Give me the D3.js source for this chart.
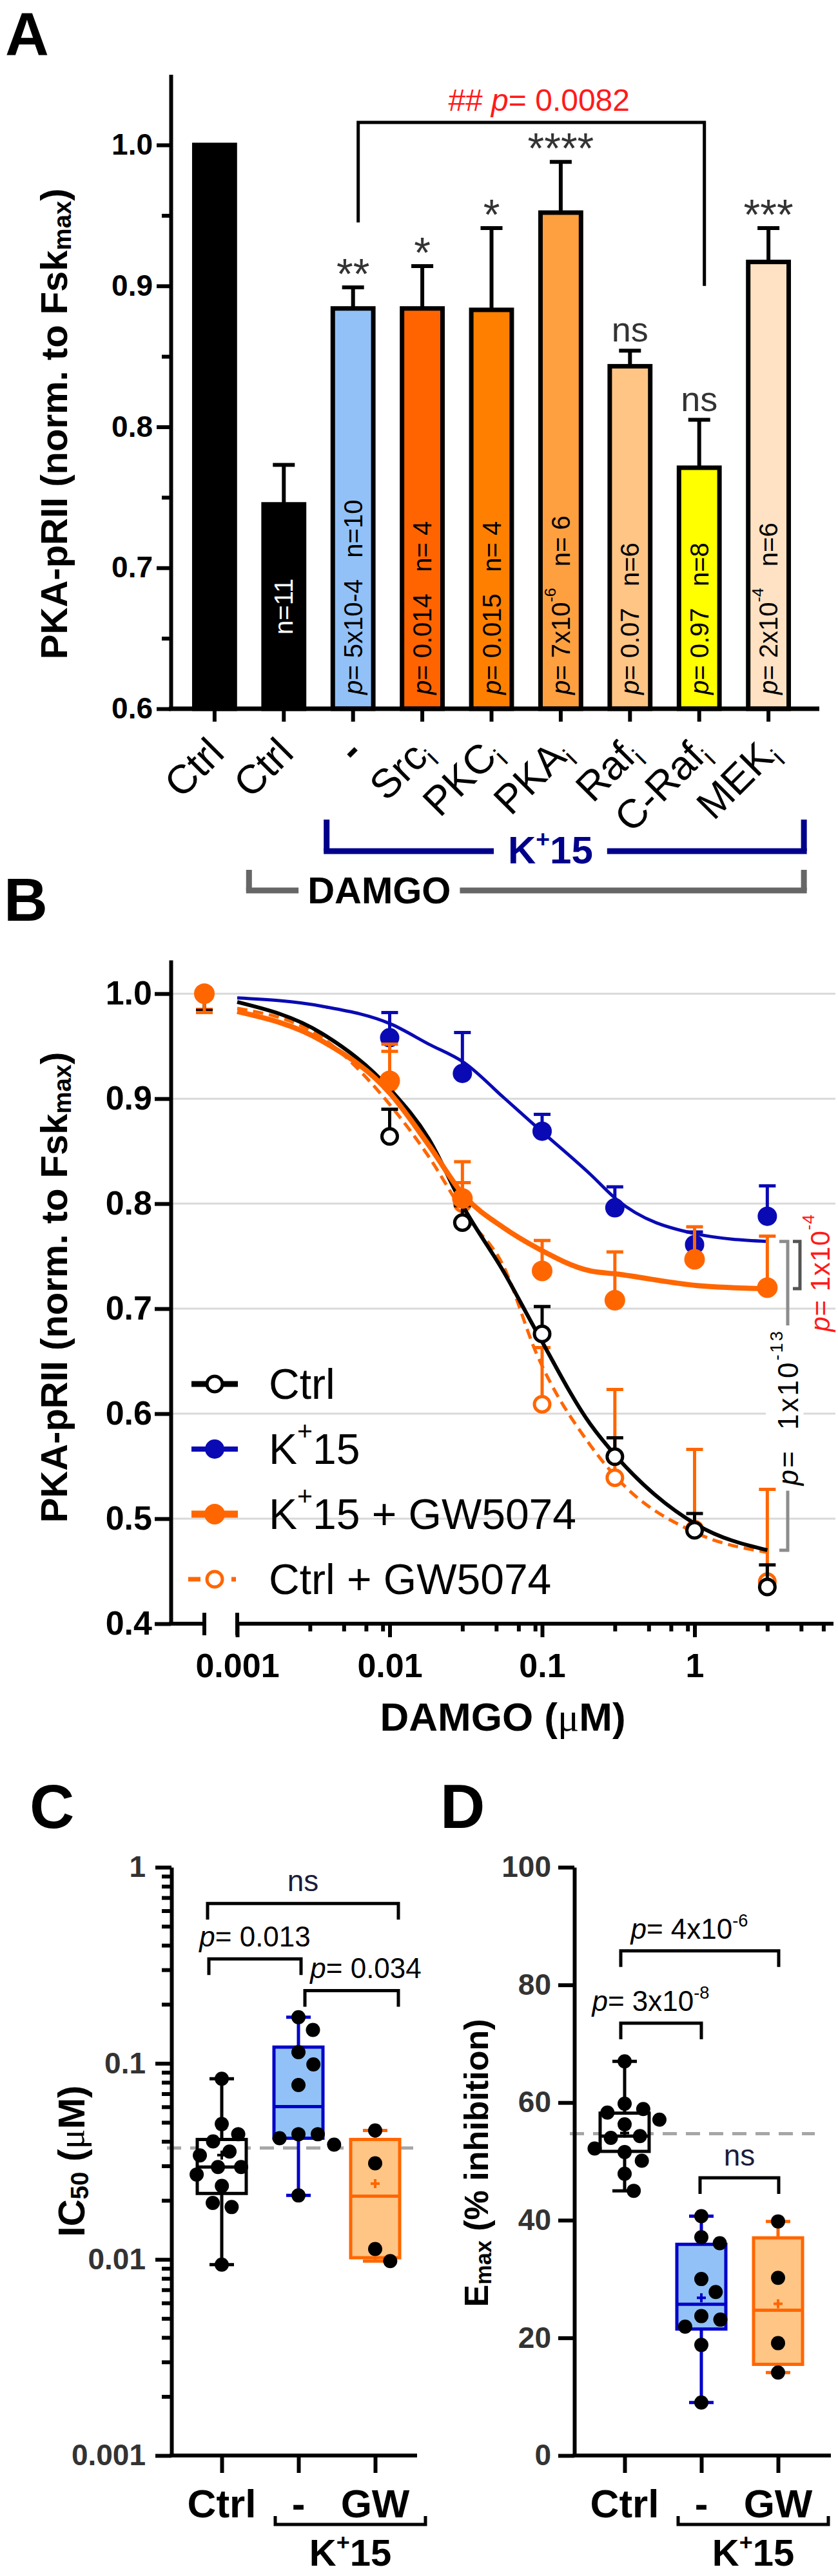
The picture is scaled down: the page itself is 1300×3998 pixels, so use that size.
<!DOCTYPE html>
<html>
<head>
<meta charset="utf-8">
<script src="https://cdn.jsdelivr.net/npm/d3@7"></script>
<style>
  body { margin: 0; background: #fff; }
  svg { display: block; }
  text { white-space: pre; }
</style>
</head>
<body>
<svg id="fig" width="1300" height="3998"></svg>
<script>
// ---------- Panel A data ----------
var aLabels = ["Ctrl", "Ctrl", "-", "Src~i~", "PKC~i~", "PKA~i~", "Raf~i~", "C-Raf~i~", "MEK~i~"];
var aMeans  = [1.000, 0.745, 0.884, 0.884, 0.883, 0.952, 0.843, 0.771, 0.917];
var aErrs   = [0, 0.028, 0.015, 0.030, 0.058, 0.036, 0.011, 0.034, 0.024];
var aColors = ["#000000", "#000000", "#92c1f7", "#ff6400", "#ff8000", "#ffa040", "#ffc585", "#ffff00", "#ffe2c4"];
var aStars  = ["", "", "**", "*", "*", "****", "ns", "ns", "***"];
var aNotes  = ["", "n=11", "_p_= 5x10-4   n=10", "_p_= 0.014   n= 4", "_p_= 0.015   n= 4",
               "_p_= 7x10^-6^   n= 6", "_p_= 0.07   n=6", "_p_= 0.97   n=8", "_p_= 2x10^-4^   n=6"];
var aTicks  = [0.6, 0.7, 0.8, 0.9, 1.0];
var aMinor  = [0.65, 0.75, 0.85, 0.95];

// ---------- Panel B data ----------
var bConc      = [0, 0.01, 0.03, 0.1, 0.3, 1, 3];
var ctrlMean   = [1.000, 0.864, 0.782, 0.676, 0.559, 0.489, 0.435];
var ctrlSem    = [0.016, 0.026, 0.016, 0.026, 0.018, 0.016, 0.021];
var k15Mean    = [1.000, 0.958, 0.924, 0.869, 0.796, 0.761, 0.788];
var k15Sem     = [0, 0.024, 0.039, 0.016, 0.020, 0.012, 0.029];
var gwMean     = [1.000, 0.917, 0.805, 0.736, 0.708, 0.747, 0.720];
var gwSem      = [0.018, 0.035, 0.035, 0.029, 0.046, 0.031, 0.049];
var ctrlGwMean = [1.000, 0.915, 0.800, 0.609, 0.539, 0.490, 0.440];
var ctrlGwSem  = [0.015, 0.030, 0.020, 0.054, 0.084, 0.076, 0.088];
// fitted curves
var fitConc   = [0.001, 0.0036, 0.0102, 0.018, 0.031, 0.056, 0.092, 0.207, 0.308, 1.04, 3.0];
var k15Fit    = [0.996, 0.988, 0.971, 0.952, 0.934, 0.901, 0.873, 0.828, 0.804, 0.771, 0.764];
var ctrlFit   = [0.992, 0.962, 0.908, 0.862, 0.795, 0.735, 0.678, 0.590, 0.559, 0.494, 0.470];
var gwFit     = [0.983, 0.955, 0.904, 0.856, 0.807, 0.777, 0.758, 0.736, 0.733, 0.722, 0.719];
var ctrlGwFit = [0.986, 0.958, 0.893, 0.845, 0.790, 0.740, 0.657, 0.570, 0.539, 0.486, 0.468];
var bYTicks   = [0.4, 0.5, 0.6, 0.7, 0.8, 0.9, 1.0];
var bXTicks   = [0.001, 0.01, 0.1, 1];
var bXMinor   = [0.003, 0.005, 0.007, 0.009, 0.03, 0.05, 0.07, 0.09, 0.3, 0.5, 0.7, 0.9, 3, 5, 7];

// ---------- Panel C data (IC50, uM) ----------
var groupsCD = ["Ctrl", "-", "GW"];
var icCtrl = [0.0834, 0.0490, 0.0435, 0.0400, 0.0355, 0.0339, 0.0296, 0.0296, 0.0271, 0.0237, 0.0194, 0.0185, 0.0094];
var icK15  = [0.172, 0.148, 0.114, 0.0987, 0.0775, 0.0435, 0.0435, 0.0415, 0.0385, 0.0212];
var icGw   = [0.0455, 0.0309, 0.0113, 0.0098];
var icBox  = [[0.0217, 0.0296, 0.0409], [0.0415, 0.0602, 0.121], [0.0102, 0.0210, 0.0409]];
var icRef  = 0.037;
var icComps = [["Ctrl", "GW", 0.654, "ns"], ["Ctrl", "-", 0.341, "_p_= 0.013"], ["-", "GW", 0.235, "_p_= 0.034"]];

// ---------- Panel D data (Emax, % inhibition) ----------
var emCtrl = [67.0, 59.8, 58.9, 58.3, 57.1, 56.3, 54.3, 54.0, 52.2, 51.6, 50.1, 47.9, 45.0];
var emK15  = [40.7, 37.1, 36.1, 30.0, 27.8, 23.7, 23.1, 21.9, 18.8, 9.0];
var emGw   = [39.8, 30.2, 19.1, 14.1];
var emBox  = [[51.7, 54.3, 58.2], [21.5, 25.7, 35.9], [15.5, 24.7, 37.0]];
var emRef  = 54.7;
var emComps = [["Ctrl", "GW", 85.8, "_p_= 4x10^-6^"], ["Ctrl", "-", 73.5, "_p_= 3x10^-8^"], ["-", "GW", 47.2, "ns"]];

// ---------- helpers ----------
var FONT = "'Liberation Sans', Arial, Helvetica, sans-serif";
var SERIF = "'Liberation Serif', 'DejaVu Serif', serif";
var NAVY = "#00008b", BLUE = "#0a0ab4", ORANGE = "#ff6600";

var svg = d3.select("#fig");
svg.append("rect").attr("width", 1300).attr("height", 3998).attr("fill", "#fff");

// tiny markup: _italic_  ^super^  ~sub~  {serif}
function rich(t, str, fs) {
  var parts = str.split(/(_[^_]+_|\^[^^]+\^|~[^~]+~|\{[^}]+\})/).filter(function(s) { return s.length; });
  var shift = 0;
  parts.forEach(function(p) {
    var ts = t.append("tspan"), txt = p, dy = 0;
    if (/^_.+_$/.test(p)) { txt = p.slice(1, -1); ts.attr("font-style", "italic"); }
    else if (/^\^.+\^$/.test(p)) { txt = p.slice(1, -1); ts.attr("font-size", fs * 0.62); dy = -fs * 0.42; }
    else if (/^~.+~$/.test(p)) { txt = p.slice(1, -1); ts.attr("font-size", fs * 0.66); dy = fs * 0.22; }
    else if (/^\{.+\}$/.test(p)) { txt = p.slice(1, -1); ts.attr("font-family", SERIF).attr("font-weight", "normal"); }
    if (dy - shift) ts.attr("dy", dy - shift);
    shift = dy;
    ts.text(txt);
  });
}

function label(parent, x, y, str, o) {
  o = o || {};
  var fs = o.size || 40;
  var g = parent.append("g").attr("transform", "translate(" + x + "," + y + ")" + (o.rot ? " rotate(" + o.rot + ")" : ""));
  var t = g.append("text")
    .attr("font-family", FONT).attr("font-size", fs)
    .attr("font-weight", o.bold ? "bold" : "normal")
    .attr("fill", o.fill || "#000")
    .attr("text-anchor", o.anchor || "start");
  if (o.mid) t.attr("dominant-baseline", "central");
  if (o.ls) t.attr("letter-spacing", o.ls);
  rich(t, str, fs);
  if (o.bg) {
    var b = t.node().getBBox();
    g.insert("rect", "text").attr("x", b.x - o.bg).attr("y", b.y)
      .attr("width", b.width + 2 * o.bg).attr("height", b.height).attr("fill", "#fff");
  }
  return t;
}

function styleAxis(g, fs, sw, color) {
  g.attr("font-family", FONT).attr("font-size", fs).attr("font-weight", "bold");
  g.select(".domain").attr("stroke", "#000").attr("stroke-width", sw);
  g.selectAll(".tick line").attr("stroke", "#000").attr("stroke-width", sw);
  g.selectAll(".tick text").attr("fill", color || "#000");
}

// bracket with a gap for a label
function gapLine(g, x0, x1, y, t, tx, pad, color, w) {
  var b = t.node().getBBox();
  var l = tx + b.x - pad, r = tx + b.x + b.width + pad;
  g.append("path").attr("d", "M" + x0 + "," + y + "H" + l + "M" + r + "," + y + "H" + x1)
    .attr("stroke", color).attr("stroke-width", w).attr("fill", "none");
}

// =================== PANEL A ===================
var gA = svg.append("g");
var xA = d3.scaleBand().domain(d3.range(aLabels.length)).range([265, 1260]).paddingInner(0.35).paddingOuter(0.307);
var yA = d3.scaleLinear().domain([0.6, 1.05]).range([1100, 115.6]);
var cA = function(i) { return xA(i) + xA.bandwidth() / 2; };

label(gA, 8, 86, "A", {size: 94, bold: true});

gA.selectAll("rect.bar").data(aMeans).join("rect").attr("class", "bar")
  .attr("x", function(d, i) { return xA(i) + 3.5; })
  .attr("width", xA.bandwidth() - 7)
  .attr("y", function(d) { return yA(d); })
  .attr("height", function(d) { return yA(0.6) - yA(d); })
  .attr("fill", function(d, i) { return aColors[i]; })
  .attr("stroke", "#000").attr("stroke-width", 7);

aMeans.forEach(function(m, i) {
  var x = cA(i), top = yA(m + aErrs[i]);
  if (aErrs[i]) {
    gA.append("path").attr("d", "M" + x + "," + yA(m) + "V" + top + "M" + (x - 17) + "," + top + "H" + (x + 17))
      .attr("stroke", "#000").attr("stroke-width", 6).attr("fill", "none");
  }
  if (aStars[i] === "ns") label(gA, x, top - 14, "ns", {size: 54, anchor: "middle", fill: "#333"});
  else if (aStars[i]) label(gA, x, top + 2, aStars[i], {size: 66, anchor: "middle", fill: "#333"});
  if (aNotes[i]) {
    var white = aColors[i] === "#000000";
    if (/^n=/.test(aNotes[i])) {
      label(gA, x, (yA(m) + yA(0.6)) / 2, aNotes[i], {size: 40, rot: -90, anchor: "middle", mid: true, fill: white ? "#fff" : "#000"});
    } else {
      label(gA, x, yA(0.6) - 22, aNotes[i], {size: 40, rot: -90, anchor: "start", mid: true, fill: white ? "#fff" : "#000"});
    }
  }
});

var axA = gA.append("g").attr("transform", "translate(265,0)")
  .call(d3.axisLeft(yA).tickValues(aTicks).tickFormat(d3.format(".1f")).tickSize(22).tickPadding(6).tickSizeOuter(0));
styleAxis(axA, 46, 6);
var axAm = gA.append("g").attr("transform", "translate(265,0)")
  .call(d3.axisLeft(yA).tickValues(aMinor).tickFormat("").tickSize(14).tickSizeOuter(0));
axAm.select(".domain").remove();
styleAxis(axAm, 46, 6);
var axAx = gA.append("g").attr("transform", "translate(0,1100)")
  .call(d3.axisBottom(xA).tickFormat("").tickSize(20).tickSizeOuter(0));
axAx.select(".domain").remove();
styleAxis(axAx, 46, 6);
gA.append("line").attr("x1", 262).attr("x2", 1271).attr("y1", 1100).attr("y2", 1100)
  .attr("stroke", "#000").attr("stroke-width", 7);

label(gA, 83, (yA(0.6) + yA(1.05)) / 2 + 50, "PKA-pRII (norm. to Fsk~max~)", {size: 58, bold: true, rot: -90, anchor: "middle", mid: true});

aLabels.forEach(function(s, i) {
  label(gA, cA(i) + 18, 1172, s, {size: 63, rot: -45, anchor: "end", bold: s === "-"});
});

// ## bracket between "-" and C-Raf
(function() {
  var x1 = cA(2) + 8, x2 = cA(7) + 8, yb = yA(1.016);
  gA.append("path").attr("d", "M" + x1 + "," + yA(0.945) + "V" + yb + "H" + x2 + "V" + yA(0.9))
    .attr("stroke", "#000").attr("stroke-width", 5).attr("fill", "none");
  label(gA, (x1 + x2) / 2 + 12, yA(1.0242), "## _p_= 0.0082", {size: 48, anchor: "middle", fill: "#ff1a1a"});
})();

// K+15 and DAMGO group brackets
(function() {
  var l = cA(2) - 41, r = cA(8) + 55, yb = 1321;
  gA.append("path").attr("d", "M" + l + ",1272V" + yb + "M" + r + ",1272V" + yb)
    .attr("stroke", NAVY).attr("stroke-width", 9).attr("fill", "none");
  var tx = (l + r) / 2 - 23;
  var t = label(gA, tx, 1340, "K^+^15", {size: 60, bold: true, anchor: "middle", fill: NAVY});
  gapLine(gA, l - 4.5, r + 4.5, yb, t, tx, 22, NAVY, 9);

  var l2 = cA(1) - 54, r2 = r, yb2 = 1382;
  gA.append("path").attr("d", "M" + l2 + ",1350V" + yb2 + "M" + r2 + ",1350V" + yb2)
    .attr("stroke", "#666").attr("stroke-width", 9).attr("fill", "none");
  var tx2 = l2 + 202;
  var t2 = label(gA, tx2, 1402, "DAMGO", {size: 58, bold: true, anchor: "middle"});
  gapLine(gA, l2 - 4.5, r2 + 4.5, yb2, t2, tx2, 14, "#666", 9);
})();

// =================== PANEL B ===================
var gB = svg.append("g");
var ZERO_X = 317;
var xB = d3.scaleLog().domain([0.001, 8.15]).range([368, 1293]);
var yB = d3.scaleLinear().domain([0.4, 1.032]).range([2520, 1490]);
var px = function(c) { return c === 0 ? ZERO_X : xB(c); };

label(gB, 6, 1429, "B", {size: 94, bold: true});

bYTicks.slice(1).forEach(function(v) {
  gB.append("line").attr("x1", 265).attr("x2", 1296).attr("y1", yB(v)).attr("y2", yB(v))
    .attr("stroke", "#d9d9d9").attr("stroke-width", 3);
});

// p-value brackets on the right
(function() {
  var xb = 1222, y0 = yB(0.764), y1 = yB(0.470);
  gB.append("path").attr("d", "M" + (xb - 13) + "," + y0 + "H" + xb + "V" + y1 + "H" + (xb - 13))
    .attr("stroke", "#8c8c8c").attr("stroke-width", 5).attr("fill", "none");
  label(gB, xb, (y0 + y1) / 2 + 18, "_p_=  1x10^-13^", {size: 44, rot: -90, anchor: "middle", mid: true, bg: 6, ls: 3});
  var xr = 1241, r0 = yB(0.764), r1 = yB(0.719);
  gB.append("path").attr("d", "M" + (xr - 11) + "," + r0 + "H" + xr + "V" + r1 + "H" + (xr - 11))
    .attr("stroke", "#555").attr("stroke-width", 5).attr("fill", "none");
  label(gB, 1272, (r0 + r1) / 2 + 12, "_p_= 1x10^-4^", {size: 42, rot: -90, anchor: "middle", mid: true, fill: "#ff1a1a", ls: 1});
})();

var seriesB = {
  ctrl:   {name: "Ctrl", mean: ctrlMean, sem: ctrlSem, fit: ctrlFit, color: "#000", filled: false, lw: 6, dash: null, r: 12},
  k15:    {name: "K^+^15", mean: k15Mean, sem: k15Sem, fit: k15Fit, color: BLUE, filled: true, lw: 5, dash: null, r: 15},
  gw:     {name: "K^+^15 + GW5074", mean: gwMean, sem: gwSem, fit: gwFit, color: ORANGE, filled: true, lw: 8, dash: null, r: 16},
  ctrlGw: {name: "Ctrl + GW5074", mean: ctrlGwMean, sem: ctrlGwSem, fit: ctrlGwFit, color: ORANGE, filled: false, lw: 5, dash: "16 9", r: 12}
};

function marker(g, x, y, s) {
  g.append("circle").attr("cx", x).attr("cy", y).attr("r", s.r)
    .attr("fill", s.filled ? s.color : "#fff")
    .attr("stroke", s.color).attr("stroke-width", s.filled ? 0 : 5);
}

var lineB = d3.line().x(function(d) { return xB(d[0]); }).y(function(d) { return yB(d[1]); }).curve(d3.curveMonotoneX);

[seriesB.k15, seriesB.ctrlGw, seriesB.ctrl, seriesB.gw].forEach(function(s) {
  s.mean.forEach(function(m, i) {
    if (!s.sem[i]) return;
    var x = px(bConc[i]), e = bConc[i] === 0 ? m - s.sem[i] : m + s.sem[i];
    gB.append("path").attr("d", "M" + x + "," + yB(m) + "V" + yB(e) + "M" + (x - 13) + "," + yB(e) + "H" + (x + 13))
      .attr("stroke", s.color).attr("stroke-width", 5).attr("fill", "none");
  });
  gB.append("path").datum(fitConc.map(function(c, i) { return [c, s.fit[i]]; }))
    .attr("d", lineB).attr("fill", "none").attr("stroke", s.color).attr("stroke-width", s.lw)
    .attr("stroke-dasharray", s.dash);
  s.mean.forEach(function(m, i) { marker(gB, px(bConc[i]), yB(m), s); });
});

// axes
var axBy = gB.append("g").attr("transform", "translate(265,0)")
  .call(d3.axisLeft(yB).tickValues(bYTicks).tickFormat(d3.format(".1f")).tickSize(25).tickPadding(4).tickSizeOuter(0));
styleAxis(axBy, 52, 6);
var yAx = yB(0.4);
gB.append("path")
  .attr("d", "M262," + yAx + "H" + ZERO_X + "M" + ZERO_X + "," + (yAx - 17) + "V" + (yAx + 18) +
             "M" + xB(0.001) + "," + (yAx - 17) + "V" + (yAx + 18) + "M" + xB(0.001) + "," + yAx + "H" + xB.range()[1])
  .attr("stroke", "#000").attr("stroke-width", 6).attr("fill", "none");
var axBx = gB.append("g").attr("transform", "translate(0," + yAx + ")")
  .call(d3.axisBottom(xB).tickValues(bXTicks).tickFormat(function(d) { return String(d); }).tickSize(21).tickPadding(25));
axBx.select(".domain").remove();
styleAxis(axBx, 52, 6);
var axBm = gB.append("g").attr("transform", "translate(0," + yAx + ")")
  .call(d3.axisBottom(xB).tickValues(bXMinor).tickFormat("").tickSize(12));
axBm.select(".domain").remove();
styleAxis(axBm, 52, 6);

label(gB, 780, 2686, "DAMGO ({\u03bc}M)", {size: 62, bold: true, anchor: "middle"});
label(gB, 83, 1998, "PKA-pRII (norm. to Fsk~max~)", {size: 58, bold: true, rot: -90, anchor: "middle", mid: true});

// legend
[seriesB.ctrl, seriesB.k15, seriesB.gw, seriesB.ctrlGw].forEach(function(s, i) {
  var y = 2148 + i * 101;
  gB.append("line").attr("x1", s.dash ? 292 : 297).attr("x2", s.dash ? 366 : 369).attr("y1", y).attr("y2", y)
    .attr("stroke", s.color).attr("stroke-width", s.dash ? 7 : s.lw + 3)
    .attr("stroke-dasharray", s.dash ? "19 48 7" : null);
  marker(gB, 333, y, s);
  label(gB, 417, y, s.name, {size: 66, mid: true});
});

// =================== PANELS C & D ===================
function swarm(vals, yf, spacing) {
  var pts = vals.map(function(v) { return {v: v, y: yf(v), x: 0}; }).sort(function(a, b) { return a.y - b.y; });
  var placed = [];
  pts.forEach(function(p) {
    var cands = [0];
    placed.forEach(function(q) {
      var dy = Math.abs(q.y - p.y);
      if (dy < spacing) {
        var dx = Math.sqrt(spacing * spacing - dy * dy);
        cands.push(q.x + dx, q.x - dx);
      }
    });
    cands.sort(function(a, b) { return Math.abs(a) - Math.abs(b); });
    for (var k = 0; k < cands.length; k++) {
      var c = cands[k];
      var ok = placed.every(function(q) { return (q.x - c) * (q.x - c) + (q.y - p.y) * (q.y - p.y) >= spacing * spacing - 0.5; });
      if (ok) { p.x = c; break; }
    }
    placed.push(p);
  });
  return placed;
}

function boxPanel(o) {
  var g = svg.append("g");
  label(g, o.letterX, 2837, o.letter, {size: 96, bold: true});
  var x = d3.scalePoint().domain(groupsCD).range(o.xr);
  var y = o.y;

  g.append("line").attr("x1", o.x0 - 7).attr("x2", o.dashEnd).attr("y1", y(o.ref)).attr("y2", y(o.ref))
    .attr("stroke", "#a6a6a6").attr("stroke-width", 5).attr("stroke-dasharray", "22 14");

  o.data.forEach(function(vals, i) {
    var cx = x(groupsCD[i]), q = o.boxes[i], col = o.strokes[i];
    var lo = d3.min(vals), hi = d3.max(vals), mean = d3.mean(vals), hw = 38, cw = 19;
    g.append("path").attr("d",
        "M" + cx + "," + y(q[2]) + "V" + y(hi) + "M" + (cx - cw) + "," + y(hi) + "H" + (cx + cw) +
        "M" + cx + "," + y(q[0]) + "V" + y(lo) + "M" + (cx - cw) + "," + y(lo) + "H" + (cx + cw))
      .attr("stroke", col).attr("stroke-width", 5).attr("fill", "none");
    g.append("rect").attr("x", cx - hw).attr("width", 2 * hw).attr("y", y(q[2])).attr("height", y(q[0]) - y(q[2]))
      .attr("fill", o.fills[i]).attr("stroke", col).attr("stroke-width", 5);
    g.append("line").attr("x1", cx - hw).attr("x2", cx + hw).attr("y1", y(q[1])).attr("y2", y(q[1]))
      .attr("stroke", col).attr("stroke-width", 5);
    g.append("path").attr("d", "M" + (cx - 7) + "," + y(mean) + "H" + (cx + 7) + "M" + cx + "," + (y(mean) - 7) + "V" + (y(mean) + 7))
      .attr("stroke", col).attr("stroke-width", 4);
    swarm(vals, y, 30).forEach(function(p) {
      g.append("circle").attr("cx", cx + p.x).attr("cy", p.y).attr("r", 11).attr("fill", "#000");
    });
  });

  // axes
  var ay = g.append("g").attr("transform", "translate(" + o.x0 + ",0)")
    .call(d3.axisLeft(y).tickValues(o.ticks).tickFormat(function(d) { return String(d); }).tickSize(25).tickPadding(o.pad).tickSizeOuter(0));
  styleAxis(ay, 46, 6, "#333");
  if (o.minor) {
    var am = g.append("g").attr("transform", "translate(" + o.x0 + ",0)")
      .call(d3.axisLeft(y).tickValues(o.minor).tickFormat("").tickSize(15).tickSizeOuter(0));
    am.select(".domain").remove();
    styleAxis(am, 46, 6);
  }
  var ax = g.append("g").attr("transform", "translate(0,3811)")
    .call(d3.axisBottom(x).tickFormat("").tickSize(27).tickSizeOuter(0));
  ax.select(".domain").remove();
  styleAxis(ax, 46, 6);
  g.append("line").attr("x1", o.x0 - 3).attr("x2", o.x1).attr("y1", 3811).attr("y2", 3811)
    .attr("stroke", "#000").attr("stroke-width", 6);

  groupsCD.forEach(function(s) { label(g, x(s), 3907, s, {size: 62, bold: true, anchor: "middle"}); });
  var bl = x("-") - 36, br = x("GW") + 78;
  g.append("path").attr("d", "M" + bl + ",3905V3918H" + br + "V3905").attr("stroke", "#000").attr("stroke-width", 5).attr("fill", "none");
  label(g, (bl + br) / 2, 3982, "K^+^15", {size: 58, bold: true, anchor: "middle"});

  label(g, o.ylx, o.yly, o.ylabel, {size: o.ylsize, bold: true, rot: -90, anchor: "middle", mid: true});

  // significance brackets
  o.comps.forEach(function(c, i) {
    var n = o.nudge[i], l = x(c[0]) + n[0], r = x(c[1]) + n[1], yy = y(c[2]);
    g.append("path").attr("d", "M" + l + "," + (yy + 25) + "V" + yy + "H" + r + "V" + (yy + 25))
      .attr("stroke", "#000").attr("stroke-width", 5).attr("fill", "none");
    var ns = c[3] === "ns";
    label(g, (l + r) / 2 + n[2], yy - 19, c[3], {size: ns ? 46 : 44, anchor: "middle", fill: ns ? "#1c1c3a" : "#000"});
  });
}

var yC = d3.scaleLog().domain([0.001, 1]).range([3811, 2898]);
var cMinor = [];
[0.001, 0.01, 0.1].forEach(function(d) { for (var k = 2; k <= 9; k++) cMinor.push(d * k); });
boxPanel({
  letter: "C", letterX: 46, x0: 266, x1: 647, xr: [344, 582], y: yC,
  ticks: [0.001, 0.01, 0.1, 1], minor: cMinor, pad: 15,
  data: [icCtrl, icK15, icGw], boxes: icBox, ref: icRef, dashEnd: 650,
  strokes: ["#000", "#0000c8", ORANGE], fills: ["#fff", "#92c1f7", "#ffc585"],
  comps: icComps, nudge: [[-22, 36, 0], [-20, 4, 0], [10, 36, 22]],
  ylabel: "IC~50~ ({\u03bc}M)", ylx: 110, yly: 3354, ylsize: 58
});

var yD = d3.scaleLinear().domain([0, 100]).range([3811, 2898]);
boxPanel({
  letter: "D", letterX: 683, x0: 891, x1: 1289, xr: [969, 1207], y: yD,
  ticks: [0, 20, 40, 60, 80, 100], minor: null, pad: 11,
  data: [emCtrl, emK15, emGw], boxes: emBox, ref: emRef, dashEnd: 1264,
  strokes: ["#000", "#0000c8", ORANGE], fills: ["#fff", "#92c1f7", "#ffc585"],
  comps: emComps, nudge: [[-6, 1, -16], [-6, 0, -16], [-2, 1, 0]],
  ylabel: "E~max~ (% inhibition)", ylx: 739, yly: 3357, ylsize: 52
});
</script>
</body>
</html>
